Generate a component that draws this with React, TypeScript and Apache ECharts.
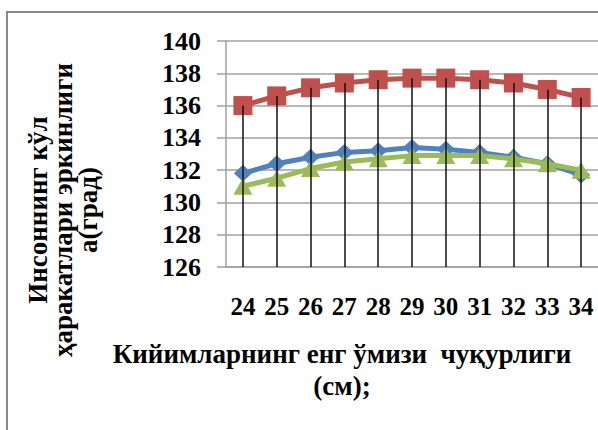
import React, { useEffect, useRef } from "react";
import * as echarts from "echarts";

// Neckline depth of the garment, cm
const categories = ["24", "25", "26", "27", "28", "29", "30", "31", "32", "33", "34"];

// Freedom of arm movement, degrees
const seriesBlue = [131.8, 132.4, 132.8, 133.1, 133.2, 133.4, 133.3, 133.1, 132.8, 132.4, 131.7];
const seriesRed = [136.0, 136.6, 137.1, 137.4, 137.6, 137.7, 137.7, 137.6, 137.4, 137.0, 136.5];
const seriesGreen = [131.0, 131.5, 132.1, 132.5, 132.7, 132.9, 132.9, 132.9, 132.7, 132.4, 132.0];

const yMin = 126;
const yMax = 140;
const yStep = 2;

const xTitle = "Кийимларнинг енг ўмизи  чуқурлиги\n(см);";
const yTitle = "Инсоннинг кўл\nҳаракатлари эркинлиги\nа(град)";

const FONT = "Liberation Serif, serif";
const GRID_GRAY = "#a0a0a0";

export default function App() {
  const ref = useRef<HTMLDivElement>(null);

  useEffect(() => {
    if (!ref.current) return;
    const chart = echarts.init(ref.current, undefined, { renderer: "svg" });

    // vertical drop lines from the upper series down to the category axis
    const dropLines = categories.map((c, i) => [
      { coord: [c, yMin] },
      { coord: [c, seriesRed[i]] },
    ]);

    chart.setOption({
      animation: false,
      backgroundColor: "#ffffff",
      grid: { left: 226, top: 41, width: 376, height: 226 },
      xAxis: {
        type: "category",
        data: categories,
        boundaryGap: true,
        axisLine: { show: true, lineStyle: { color: GRID_GRAY, width: 1.5 } },
        axisTick: { show: false },
        axisLabel: {
          color: "#000",
          fontFamily: FONT,
          fontWeight: "bold",
          fontSize: 25,
          margin: 27,
        },
        splitLine: { show: false },
      },
      yAxis: {
        type: "value",
        min: yMin,
        max: yMax,
        interval: yStep,
        axisLine: { show: true, lineStyle: { color: GRID_GRAY, width: 1.5 } },
        axisTick: { show: true, length: 9, lineStyle: { color: GRID_GRAY, width: 1.5 } },
        axisLabel: {
          color: "#000",
          fontFamily: FONT,
          fontWeight: "bold",
          fontSize: 26,
          margin: 25,
        },
        splitLine: { show: true, lineStyle: { color: GRID_GRAY, width: 1.5 } },
      },
      series: [
        {
          type: "line",
          data: seriesBlue,
          symbol: "diamond",
          symbolSize: [18, 17],
          lineStyle: { color: "#4F81BD", width: 5 },
          itemStyle: { color: "#4F81BD" },
          z: 2,
        },
        {
          type: "line",
          data: seriesRed,
          symbol: "rect",
          symbolSize: 19,
          lineStyle: { color: "#C0504D", width: 5 },
          itemStyle: { color: "#C0504D" },
          z: 3,
          markLine: {
            silent: true,
            symbol: ["none", "none"],
            label: { show: false },
            lineStyle: { color: "#111", width: 1.5, type: "solid" },
            emphasis: { disabled: true },
            data: dropLines,
            z: 10,
          },
        },
        {
          type: "line",
          data: seriesGreen,
          symbol: "triangle",
          symbolSize: [19, 17],
          lineStyle: { color: "#9BBB59", width: 5 },
          itemStyle: { color: "#9BBB59" },
          z: 4,
        },
      ],
      graphic: [
        {
          type: "polyline",
          shape: { points: [[7, 430], [7, 12], [598, 12]] },
          style: { stroke: "#888888", lineWidth: 2, fill: "none" },
          silent: true,
        },
        {
          type: "text",
          x: 342,
          y: 370,
          style: {
            text: xTitle,
            fontFamily: FONT,
            fontWeight: "bold",
            fontSize: 27,
            lineHeight: 32,
            fill: "#000",
            align: "center",
            verticalAlign: "middle",
          },
        },
        {
          type: "text",
          x: 63,
          y: 210,
          rotation: Math.PI / 2,
          style: {
            text: yTitle,
            fontFamily: FONT,
            fontWeight: "bold",
            fontSize: 27,
            lineHeight: 25,
            fill: "#000",
            align: "center",
            verticalAlign: "middle",
          },
        },
      ],
    });

    return () => chart.dispose();
  }, []);

  return (
    <div
      ref={ref}
      style={{ position: "absolute", left: 0, top: 0, width: 598, height: 430 }}
    />
  );
}
